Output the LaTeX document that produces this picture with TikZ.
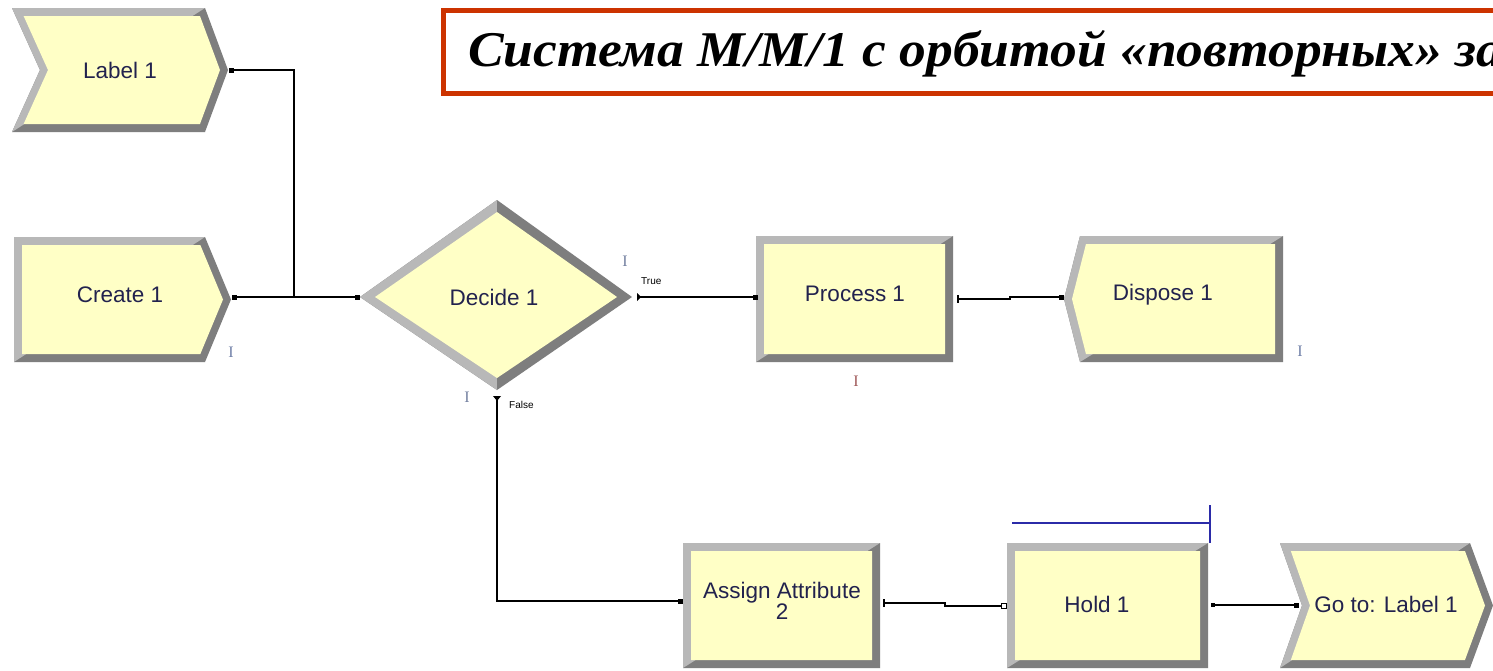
\documentclass[tikz,border=0pt]{standalone}
\usepackage{fontspec}
\setmainfont{Liberation Sans}
\newfontfamily\titlefont{Liberation Serif}
\usetikzlibrary{calc}

\definecolor{modfill}{HTML}{FFFFC6}
\definecolor{bevlight}{HTML}{B8B8B8}
\definecolor{bevdark}{HTML}{7E7E7E}
\definecolor{modtext}{HTML}{22224E}
\definecolor{titlered}{HTML}{CC3300}
\definecolor{animblue}{HTML}{7080A8}
\definecolor{animred}{HTML}{A05A5A}
\definecolor{storageblue}{HTML}{2B2BA8}

% Beveled Arena-style module: #1..#4 = left, top, right, bottom;
% #5 = depth of the left notch (negative: point to the left);
% #6 = depth of the right point.
\newcommand\arenamodule[6]{%
  \pgfmathsetmacro\mxa{#1}\pgfmathsetmacro\mya{#2}%
  \pgfmathsetmacro\mxb{#3}\pgfmathsetmacro\myb{#4}%
  \pgfmathsetmacro\mym{(#2+#4)/2}%
  \pgfmathsetmacro\mhh{(#4-#2)/2}%
  \pgfmathsetmacro\mb{8}%
  \pgfmathsetmacro\olm{#1+(#5)}%
  \pgfmathsetmacro\orm{#3+(#6)}%
  \pgfmathsetmacro\ila{#1+\mb+(#5)*\mb/\mhh}%
  \pgfmathsetmacro\ilm{#1+(#5)+\mb}%
  \pgfmathsetmacro\ira{#3-\mb+(#6)*\mb/\mhh}%
  \pgfmathsetmacro\irm{#3+(#6)-\mb}%
  \pgfmathsetmacro\iya{#2+\mb}%
  \pgfmathsetmacro\iyb{#4-\mb}%
  \fill[bevdark] (\mxa,\mya) -- (\mxb,\mya) -- (\orm,\mym) -- (\mxb,\myb)
     -- (\mxa,\myb) -- (\olm,\mym) -- cycle;
  \begin{scope}
    \clip (\mxa,\mya) -- (\mxb,\mya) -- (\orm,\mym) -- (\mxb,\myb)
       -- (\mxa,\myb) -- (\olm,\mym) -- cycle;
    \fill[bevlight] ($(\mxa,\myb)!-2!(\mxb,\mya)$) -- ($(\mxa,\myb)!3!(\mxb,\mya)$)
       -- ++(-3000,-3000) -- cycle;
  \end{scope}
  \fill[modfill] (\ila,\iya) -- (\ira,\iya) -- (\irm,\mym) -- (\ira,\iyb)
     -- (\ila,\iyb) -- (\ilm,\mym) -- cycle;
}

\begin{document}
\begin{tikzpicture}[x=1pt,y=-1pt,
  conn/.style={line width=1.6pt, black},
  modlabel/.style={text=modtext, font=\fontsize{22.5}{22.5}\selectfont, inner sep=0pt},
  branchlabel/.style={font=\fontsize{10}{10}\selectfont, inner sep=0pt},
  entrysq/.style={fill=black, draw=none, rectangle, minimum size=5pt, inner sep=0pt},
  animmark/.style={font=\titlefont\fontsize{16}{16}\selectfont, inner sep=0pt},
  storage/.style={storageblue, line width=1.6pt}]
\useasboundingbox (0,0) rectangle (1493,670);
\clip (0,0) rectangle (1493,670);
\fill[white] (0,0) rectangle (1493,670);

% title banner
\draw[titlered, line width=5pt, fill=white] (443,10) rectangle (1540,93);
\node[anchor=base west, inner sep=0pt,
      font=\titlefont\bfseries\itshape\fontsize{50}{50}\selectfont]
  (title) at (468,66) {\scalebox{1.07}[1]{Система M/M/1 с орбитой «повторных» за}};

% modules
\arenamodule{12}{8}{205}{132}{28}{23}
\node[modlabel] (label1) at (120,70) {Label 1};

\arenamodule{14}{237}{205}{362}{0}{26}
\node[modlabel] (create1) at (120,295) {Create 1};

% decide diamond
\fill[bevdark] (360,297) -- (497,200) -- (632,297) -- (497,390) -- cycle;
\begin{scope}
  \clip (360,297) -- (497,200) -- (632,297) -- (497,390) -- cycle;
  \fill[bevlight] (350,190) rectangle (497,400);
\end{scope}
\fill[modfill] (375,297) -- (497,212) -- (617,297) -- (497,378) -- cycle;
\node[modlabel] (decide1) at (494,297) {Decide 1};

\arenamodule{756}{236}{953}{362}{0}{0}
\node[modlabel] (process1) at (855,294) {Process 1};

\arenamodule{1080}{236}{1283}{362}{-16}{0}
\node[modlabel] (dispose1) at (1163,295) {Dispose 1};

\arenamodule{683}{543}{880}{668}{0}{0}
\node[modlabel, align=center] (assign2) at (782,601)
  {Assign Attribute\\[-1pt]2};

\arenamodule{1007}{543}{1208}{668}{0}{0}
\node[modlabel] (hold1) at (1097,604) {Hold 1};

\arenamodule{1280}{543}{1470}{668}{22}{23}
\node[modlabel] (goto1) at (1386,604) {Go to: Label 1};

% storage bar over the hold module
\coordinate (stor-a) at (1012,523);
\coordinate (stor-b) at (1210,523);
\draw[storage] (stor-a) -- (stor-b);
\draw[storage] ($(stor-b)+(0,-18)$) -- ($(stor-b)+(0,20)$);

% ports
\coordinate (label-out) at (231,70);
\coordinate (junction) at (294,297);
\coordinate (create-out) at (234,297);
\coordinate (decide-in) at (357,297);
\coordinate (decide-true) at (638,297);
\coordinate (decide-false) at (497,397);
\coordinate (process-in) at (755,297);
\coordinate (process-out) at (958,299);
\coordinate (dispose-in) at (1061,297);
\coordinate (assign-in) at (680,601);
\coordinate (assign-out) at (884,603);
\coordinate (hold-in) at (1004,606);
\coordinate (hold-out) at (1213,605);
\coordinate (goto-in) at (1296,605);

% connectors
\draw[conn] (label-out) -| (junction);
\draw[conn] (create-out) -- (decide-in);
\draw[conn] (decide-true) -- (process-in);
\draw[conn] (process-out) -- ++(52,0) |- (dispose-in);
\draw[conn] (decide-false) |- (assign-in);
\draw[conn] (assign-out) -- ++(61,0) |- (hold-in);
\draw[conn] (hold-out) -- (goto-in);

% port markers
\node[entrysq] (m1) at (label-out) {};
\node[entrysq] (m2) at (create-out) {};
\node[entrysq] (m3) at (decide-in) {};
\node[entrysq] (m4) at (process-in) {};
\node[entrysq] (m5) at (dispose-in) {};
\node[entrysq] (m6) at (assign-in) {};
\node[entrysq] (m7) at (goto-in) {};
\node[entrysq, minimum size=4pt] (m8) at (hold-out) {};
\node[rectangle, draw=black, fill=white, line width=1pt, minimum size=5pt, inner sep=0pt] (m9) at (hold-in) {};
\fill (decide-true) ++(-1,-4) -- ++(4,4) -- ++(-4,4) -- cycle;
\fill (decide-false) ++(-4,-1) -- ++(8,0) -- ++(-4,5) -- cycle;
\draw[line width=1.6pt] (process-out) ++(0,-4) -- ++(0,8);
\draw[line width=1.6pt] (assign-out) ++(0,-4) -- ++(0,8);

% branch labels
\node[branchlabel, anchor=west] (truelbl) at (641,281) {True};
\node[branchlabel, anchor=west] (falselbl) at (509,405) {False};

% animation markers
\node[animmark, text=animblue] (a1) at (231,352) {I};
\node[animmark, text=animblue!80!gray] (a2) at (625,261) {I};
\node[animmark, text=animblue!80!gray] (a3) at (467,397) {I};
\node[animmark, text=animred] (a4) at (856,381) {I};
\node[animmark, text=animblue] (a5) at (1300,351) {I};
\end{tikzpicture}
\end{document}
